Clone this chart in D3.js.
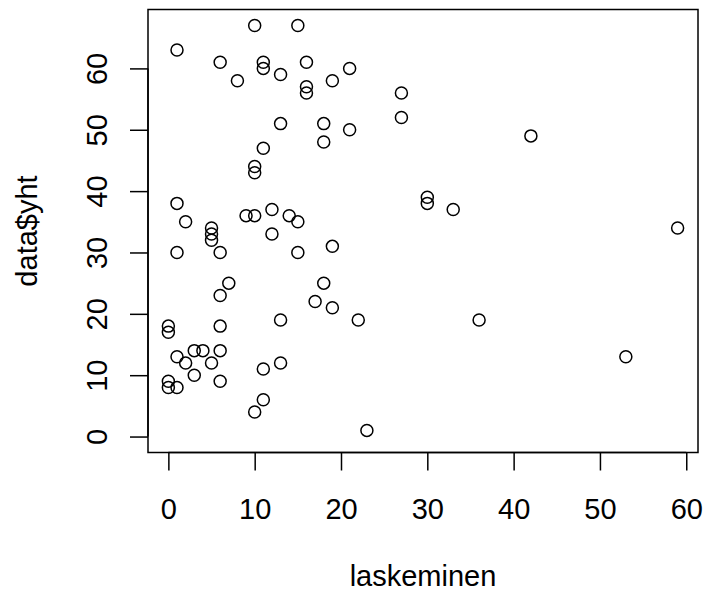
<!DOCTYPE html>
<html>
<head>
<meta charset="utf-8">
<script src="https://cdn.jsdelivr.net/npm/d3@7"></script>
<style>
  html, body { margin: 0; padding: 0; background: #fff; }
  svg { display: block; }
  text { font-family: "Liberation Sans", Arial, Helvetica, sans-serif; fill: #000; }
</style>
</head>
<body>
<svg id="chart" width="706" height="596"></svg>
<script>
// Data (laskeminen vs data$yht)
const laskeminen = [10,15,1,6,11,11,8,13,16,16,16,19,21,27,27,13,18,21,18,11,10,10,1,2,5,5,5,9,10,12,14,15,12,1,6,15,19,7,6,18,17,19,22,13,0,0,6,1,3,4,6,2,5,3,6,0,0,1,11,13,11,10,23,42,30,30,33,59,36,53];
const yht        = [67,67,63,61,61,60,58,59,61,57,56,58,60,56,52,51,51,50,48,47,44,43,38,35,34,33,32,36,36,37,36,35,33,30,30,30,31,25,23,25,22,21,19,19,18,17,18,13,14,14,14,12,12,10,9,9,8,8,11,12,6,4,1,49,39,38,37,34,19,13];
const xTicks = [0,10,20,30,40,50,60];
const yTicks = [0,10,20,30,40,50,60];
const xLabel = "laskeminen";
const yLabel = "data$yht";

const svg = d3.select("#chart");
const plot = { left: 148, top: 9.5, right: 698, bottom: 452.5 };

// R-style 4% extended x domain
const xExt = d3.extent(laskeminen);
const x = d3.scaleLinear()
  .domain([xExt[0] - 0.04 * (xExt[1] - xExt[0]), xExt[1] + 0.04 * (xExt[1] - xExt[0])])
  .range([plot.left, plot.right]);
const y = d3.scaleLinear()
  .domain([-2.6, 69.6])
  .range([plot.bottom, plot.top]);

const fontSize = 29;
const tickLen = 18;
const lw = 1.5;

// box
svg.append("rect")
  .attr("x", plot.left).attr("y", plot.top)
  .attr("width", plot.right - plot.left).attr("height", plot.bottom - plot.top)
  .attr("fill", "none").attr("stroke", "#000").attr("stroke-width", lw);

// x axis
const xAxis = d3.axisBottom(x).tickValues(xTicks).tickSize(tickLen).tickPadding(0).tickFormat(d3.format("d"));
const gx = svg.append("g").attr("transform", `translate(0,${plot.bottom})`).call(xAxis);
gx.select(".domain").attr("d", `M${x(xTicks[0])},0H${x(xTicks[xTicks.length-1])}`).attr("stroke", "#000").attr("stroke-width", lw);
gx.selectAll(".tick line").attr("stroke", "#000").attr("stroke-width", lw);
gx.selectAll(".tick text")
  .attr("y", 519 - plot.bottom).attr("dy", null)
  .attr("font-size", fontSize).attr("font-family", '"Liberation Sans", Arial, sans-serif')
  .attr("fill", "#000");

// y axis
const yAxis = d3.axisLeft(y).tickValues(yTicks).tickSize(tickLen).tickPadding(0).tickFormat(d3.format("d"));
const gy = svg.append("g").attr("transform", `translate(${plot.left},0)`).call(yAxis);
gy.select(".domain").attr("d", `M0,${y(yTicks[0])}V${y(yTicks[yTicks.length-1])}`).attr("stroke", "#000").attr("stroke-width", lw);
gy.selectAll(".tick line").attr("stroke", "#000").attr("stroke-width", lw);
gy.selectAll(".tick text")
  .attr("x", null).attr("dy", null)
  .attr("transform", `translate(${107 - plot.left},0) rotate(-90)`)
  .attr("text-anchor", "middle")
  .attr("font-size", fontSize).attr("font-family", '"Liberation Sans", Arial, sans-serif')
  .attr("fill", "#000");

// axis titles
svg.append("text")
  .attr("x", (plot.left + plot.right) / 2).attr("y", 586)
  .attr("text-anchor", "middle").attr("font-size", fontSize)
  .text(xLabel);
svg.append("text")
  .attr("transform", `translate(37,${(plot.top + plot.bottom) / 2}) rotate(-90)`)
  .attr("text-anchor", "middle").attr("font-size", fontSize)
  .text(yLabel);

// points
svg.append("g").selectAll("circle")
  .data(laskeminen.map((d, i) => ({ x: d, y: yht[i] })))
  .join("circle")
  .attr("cx", d => x(d.x)).attr("cy", d => y(d.y))
  .attr("r", 6)
  .attr("fill", "none").attr("stroke", "#000").attr("stroke-width", lw);
</script>
</body>
</html>
